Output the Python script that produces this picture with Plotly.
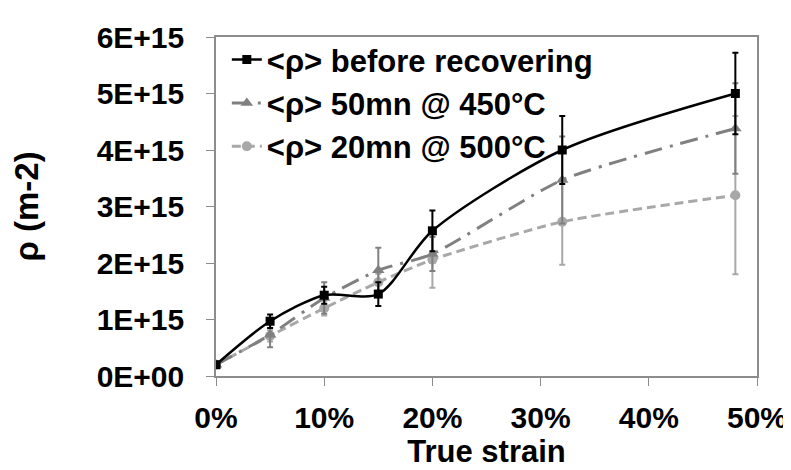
import plotly.graph_objects as go

# true strain (fraction)
strain = [0, 0.05, 0.10, 0.15, 0.20, 0.32, 0.48]

# dislocation density (m-2)
rho_before = [0.20e15, 0.97e15, 1.43e15, 1.45e15, 2.57e15, 4.00e15, 5.00e15]
err_before = [0.00e15, 0.12e15, 0.15e15, 0.21e15, 0.36e15, 0.60e15, 0.72e15]

rho_450 = [0.20e15, 0.73e15, 1.38e15, 1.87e15, 2.16e15, 3.47e15, 4.38e15]
err_450 = [0.00e15, 0.22e15, 0.28e15, 0.40e15, 0.30e15, 0.77e15, 0.80e15]

rho_500 = [0.20e15, 0.71e15, 1.20e15, 1.66e15, 2.06e15, 2.73e15, 3.20e15]
err_500 = [0.00e15, 0.10e15, 0.13e15, 0.15e15, 0.50e15, 0.76e15, 1.40e15]

names = ["&lt;ρ&gt; before recovering", "&lt;ρ&gt; 50mn @ 450°C", "&lt;ρ&gt; 20mn @ 500°C"]

x_ticks = [0, 0.1, 0.2, 0.3, 0.4, 0.5]
y_ticks = [0, 1e15, 2e15, 3e15, 4e15, 5e15, 6e15]
y_tick_labels = ["0E+00", "1E+15", "2E+15", "3E+15", "4E+15", "5E+15", "6E+15"]

BLACK = "#000000"
GREY = "#808080"
LIGHT = "#a8a8a8"

fig = go.Figure()

# lightest first so the black curve sits on top
fig.add_trace(go.Scatter(
    x=strain, y=rho_500, name=names[2], legendrank=3,
    mode="lines+markers",
    line=dict(color=LIGHT, width=3, dash="9px,5px", shape="spline", smoothing=0.6),
    marker=dict(symbol="circle", size=10, color=LIGHT),
    error_y=dict(type="data", array=err_500, color=LIGHT, thickness=2, width=3),
))
fig.add_trace(go.Scatter(
    x=strain, y=rho_450, name=names[1], legendrank=2,
    mode="lines+markers",
    line=dict(color=GREY, width=3, dash="18px,8px,3px,8px", shape="spline", smoothing=0.6),
    marker=dict(symbol="triangle-up", size=11, color=GREY),
    error_y=dict(type="data", array=err_450, color=GREY, thickness=2, width=3),
))
fig.add_trace(go.Scatter(
    x=strain, y=rho_before, name=names[0], legendrank=1,
    mode="lines+markers",
    line=dict(color=BLACK, width=2.5, shape="spline", smoothing=0.8),
    marker=dict(symbol="square", size=9, color=BLACK),
    error_y=dict(type="data", array=err_before, color=BLACK, thickness=2, width=3),
))

fig.update_layout(
    width=791, height=470,
    margin=dict(l=208, r=31, t=27, b=102),
    paper_bgcolor="white", plot_bgcolor="white",
    font=dict(family="Liberation Sans, Arial, sans-serif", size=30, color="black", weight="bold"),
    showlegend=True,
    legend=dict(
        x=0.02, y=1.012, xanchor="left", yanchor="top",
        bgcolor="rgba(0,0,0,0)", itemwidth=30, tracegroupgap=0,
        font=dict(size=31, weight="bold"),
    ),
)

fig.update_xaxes(
    range=[0, 0.5], tickvals=x_ticks, tickformat=".0%",
    showgrid=False, zeroline=False,
    showline=True, linecolor="#8c8c8c", linewidth=1.5, mirror=True,
    ticks="outside", ticklen=8, tickcolor="#8c8c8c",
    ticklabelstandoff=6,
    title=dict(text="True strain", font=dict(size=31, weight="bold"), standoff=0),
)
fig.update_yaxes(
    range=[0, 6e15], tickvals=y_ticks, ticktext=y_tick_labels,
    showgrid=False, zeroline=False,
    showline=True, linecolor="#8c8c8c", linewidth=1.5, mirror=True,
    ticks="outside", ticklen=8, tickcolor="#8c8c8c",
    ticklabelstandoff=16,
    title=dict(text="ρ (m-2)", font=dict(size=33, weight="bold"), standoff=50),
)

fig.write_html("out.html")
